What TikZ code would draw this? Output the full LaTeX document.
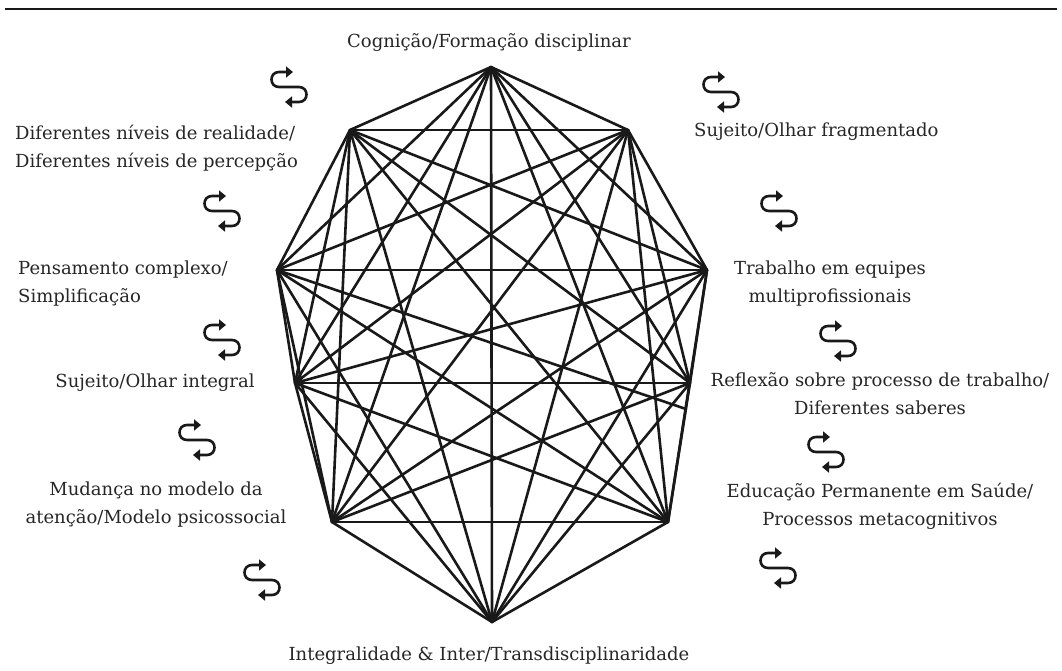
\documentclass[tikz,border=0pt]{standalone}
\usepackage{fontspec}
\setmainfont{DejaVu Serif}
\usetikzlibrary{arrows.meta}
\tikzset{
  edge/.style={line width=2.6pt, line cap=round, line join=round, draw=black!90},
  lbl/.style={font=\fontsize{18}{28}\selectfont, inner sep=0pt, text=black!85},
  swapicon/.pic={
    \draw[line width=2.6pt, draw=black!90,
      {Triangle[width=11pt,length=7pt]}-{Triangle[width=11pt,length=7pt]}]
      (4,-15) -- (-10,-15) .. controls (-20,-15) and (-20,0) .. (-10,0)
      -- (10,0) .. controls (20,0) and (20,15) .. (10,15) -- (-4,15);
  }
}
\begin{document}
\begin{tikzpicture}[x=1pt,y=-1pt]
\useasboundingbox (0,0) rectangle (1062,670);
\draw[line width=1.6pt, draw=black!90] (5,9) -- (1057,9);
% vertices
\coordinate (T) at (491,67);
\coordinate (UL) at (350,130);
\coordinate (UR) at (628,130);
\coordinate (ML) at (277,270);
\coordinate (MR) at (707,270);
\coordinate (LML) at (295,383);
\coordinate (LMR) at (690,383);
\coordinate (LL) at (332,522);
\coordinate (LR) at (668,522);
\coordinate (B) at (492,622);
\coordinate (X) at (686,409);
\foreach \a/\b in {T/UL,T/UR,T/ML,T/MR,T/LML,T/LMR,T/LL,T/LR,T/B,
  UL/UR,UL/ML,UL/MR,UL/LML,UL/LMR,UL/LL,UL/LR,UL/B,
  UR/ML,UR/MR,UR/LML,UR/LMR,UR/LL,UR/LR,UR/B,
  ML/MR,ML/LML,ML/X,ML/LL,ML/LR,ML/B,
  MR/LML,MR/LMR,MR/LL,MR/LR,MR/B,
  LML/LMR,LML/LL,LML/LR,LML/B,
  LMR/LL,LMR/LR,LMR/B,
  LL/LR,LL/B,
  LR/B}
  \draw[edge] (\a) -- (\b);
% labels
\node[lbl] (cog) at (489,43) {Cognição/Formação disciplinar};
\node[lbl, anchor=west, align=left] (dif) at (15,148) {Diferentes níveis de realidade/\\Diferentes níveis de percepção};
\node[lbl, anchor=west, align=left] (pen) at (18,284) {Pensamento complexo/\\Simplificação};
\node[lbl] (sint) at (155,383) {Sujeito/Olhar integral};
\node[lbl, align=center] (mud) at (156,505) {Mudança no modelo da\\atenção/Modelo psicossocial};
\node[lbl, anchor=west] (sfrag) at (694,132) {Sujeito/Olhar fragmentado};
\node[lbl, align=center] (trab) at (830,284) {Trabalho em equipes\\multiprofissionais};
\node[lbl, align=center] (refl) at (880,394) {Reflexão sobre processo de trabalho/\\Diferentes saberes};
\node[lbl, align=center] (edu) at (880,506) {Educação Permanente em Saúde/\\Processos metacognitivos};
\node[lbl] (integ) at (489,656) {Integralidade \& Inter/Transdisciplinaridade};
% icons
\pic at (289,87) {swapicon};
\pic at (721,92) {swapicon};
\pic at (222,211) {swapicon};
\pic at (779,211) {swapicon};
\pic at (222,340) {swapicon};
\pic at (838,341) {swapicon};
\pic at (197,440) {swapicon};
\pic at (826,452) {swapicon};
\pic at (262,580) {swapicon};
\pic at (778,568) {swapicon};
\end{tikzpicture}
\end{document}
